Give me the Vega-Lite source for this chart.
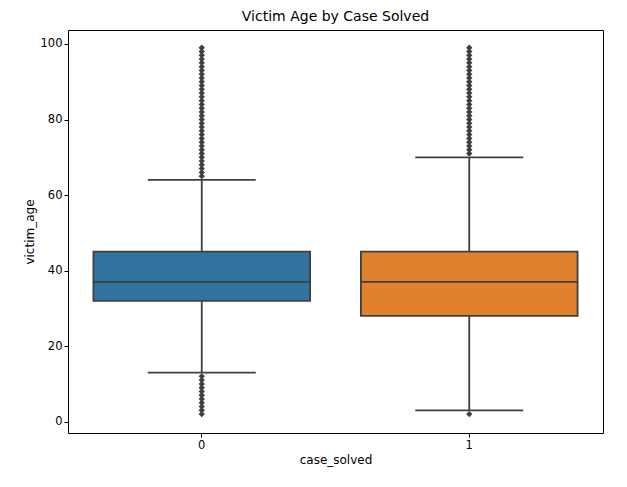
{
  "$schema": "https://vega.github.io/schema/vega-lite/v6.json",
  "autosize": "none",
  "padding": {"left": 68, "top": 30, "right": 24, "bottom": 54},
  "width": 535,
  "height": 403,
  "title": {"text": "Victim Age by Case Solved", "font": "DejaVu Sans", "fontSize": 14, "fontWeight": "normal", "offset": 6},
  "datasets": {
    "boxes": [
      {"case_solved": "0", "lo": 13, "q1": 32, "median": 37, "q3": 45, "hi": 64},
      {"case_solved": "1", "lo": 3, "q1": 28, "median": 37, "q3": 45, "hi": 70}
    ],
    "outliers": [
      {"case_solved": "0", "age": 2}, {"case_solved": "0", "age": 3}, {"case_solved": "0", "age": 4}, {"case_solved": "0", "age": 5},
      {"case_solved": "0", "age": 6}, {"case_solved": "0", "age": 7}, {"case_solved": "0", "age": 8}, {"case_solved": "0", "age": 9},
      {"case_solved": "0", "age": 10}, {"case_solved": "0", "age": 11}, {"case_solved": "0", "age": 12},
      {"case_solved": "0", "age": 65}, {"case_solved": "0", "age": 66}, {"case_solved": "0", "age": 67}, {"case_solved": "0", "age": 68},
      {"case_solved": "0", "age": 69}, {"case_solved": "0", "age": 70}, {"case_solved": "0", "age": 71}, {"case_solved": "0", "age": 72},
      {"case_solved": "0", "age": 73}, {"case_solved": "0", "age": 74}, {"case_solved": "0", "age": 75}, {"case_solved": "0", "age": 76},
      {"case_solved": "0", "age": 77}, {"case_solved": "0", "age": 78}, {"case_solved": "0", "age": 79}, {"case_solved": "0", "age": 80},
      {"case_solved": "0", "age": 81}, {"case_solved": "0", "age": 82}, {"case_solved": "0", "age": 83}, {"case_solved": "0", "age": 84},
      {"case_solved": "0", "age": 85}, {"case_solved": "0", "age": 86}, {"case_solved": "0", "age": 87}, {"case_solved": "0", "age": 88},
      {"case_solved": "0", "age": 89}, {"case_solved": "0", "age": 90}, {"case_solved": "0", "age": 91}, {"case_solved": "0", "age": 92},
      {"case_solved": "0", "age": 93}, {"case_solved": "0", "age": 94}, {"case_solved": "0", "age": 95}, {"case_solved": "0", "age": 96},
      {"case_solved": "0", "age": 97}, {"case_solved": "0", "age": 98}, {"case_solved": "0", "age": 99},
      {"case_solved": "1", "age": 2},
      {"case_solved": "1", "age": 71}, {"case_solved": "1", "age": 72}, {"case_solved": "1", "age": 73}, {"case_solved": "1", "age": 74},
      {"case_solved": "1", "age": 75}, {"case_solved": "1", "age": 76}, {"case_solved": "1", "age": 77}, {"case_solved": "1", "age": 78},
      {"case_solved": "1", "age": 79}, {"case_solved": "1", "age": 80}, {"case_solved": "1", "age": 81}, {"case_solved": "1", "age": 82},
      {"case_solved": "1", "age": 83}, {"case_solved": "1", "age": 84}, {"case_solved": "1", "age": 85}, {"case_solved": "1", "age": 86},
      {"case_solved": "1", "age": 87}, {"case_solved": "1", "age": 88}, {"case_solved": "1", "age": 89}, {"case_solved": "1", "age": 90},
      {"case_solved": "1", "age": 91}, {"case_solved": "1", "age": 92}, {"case_solved": "1", "age": 93}, {"case_solved": "1", "age": 94},
      {"case_solved": "1", "age": 95}, {"case_solved": "1", "age": 96}, {"case_solved": "1", "age": 97}, {"case_solved": "1", "age": 98},
      {"case_solved": "1", "age": 99}
    ]
  },
  "encoding": {
    "x": {
      "field": "case_solved",
      "type": "nominal",
      "scale": {"paddingInner": 0, "paddingOuter": 0},
      "axis": {"title": "case_solved", "labelAngle": 0}
    }
  },
  "layer": [
    {
      "data": {"name": "boxes"},
      "mark": {"type": "rule", "color": "#3f3f3f", "strokeWidth": 1.8},
      "encoding": {
        "y": {"field": "lo", "type": "quantitative", "scale": {"domain": [-3, 103.7], "nice": false},
              "axis": {"title": "victim_age", "values": [0, 20, 40, 60, 80, 100], "grid": false}},
        "y2": {"field": "hi"}
      }
    },
    {
      "data": {"name": "boxes"},
      "mark": {"type": "bar", "width": {"band": 0.81}, "stroke": "#3f3f3f", "strokeWidth": 1.8},
      "encoding": {
        "y": {"field": "q1", "type": "quantitative"},
        "y2": {"field": "q3"},
        "color": {"field": "case_solved", "type": "nominal", "scale": {"range": ["#3274a1", "#e1812c"]}, "legend": null}
      }
    },
    {
      "data": {"name": "boxes"},
      "mark": {"type": "tick", "color": "#3f3f3f", "opacity": 1, "size": 217, "thickness": 1.8},
      "encoding": {"y": {"field": "median", "type": "quantitative"}}
    },
    {
      "data": {"name": "boxes"},
      "mark": {"type": "tick", "color": "#3f3f3f", "opacity": 1, "size": 108, "thickness": 1.8},
      "encoding": {"y": {"field": "lo", "type": "quantitative"}}
    },
    {
      "data": {"name": "boxes"},
      "mark": {"type": "tick", "color": "#3f3f3f", "opacity": 1, "size": 108, "thickness": 1.8},
      "encoding": {"y": {"field": "hi", "type": "quantitative"}}
    },
    {
      "data": {"name": "outliers"},
      "mark": {"type": "point", "shape": "diamond", "filled": true, "color": "#3f3f3f", "size": 40, "opacity": 1},
      "encoding": {"y": {"field": "age", "type": "quantitative"}}
    }
  ],
  "config": {
    "font": "DejaVu Sans",
    "view": {"stroke": "#000000", "strokeWidth": 1},
    "axis": {
      "labelFont": "DejaVu Sans", "labelFontSize": 11.5, "labelColor": "#000000",
      "titleFont": "DejaVu Sans", "titleFontSize": 12, "titleFontWeight": "normal", "titleColor": "#000000",
      "domain": false, "tickColor": "#000000", "tickSize": 4
    }
  }
}
